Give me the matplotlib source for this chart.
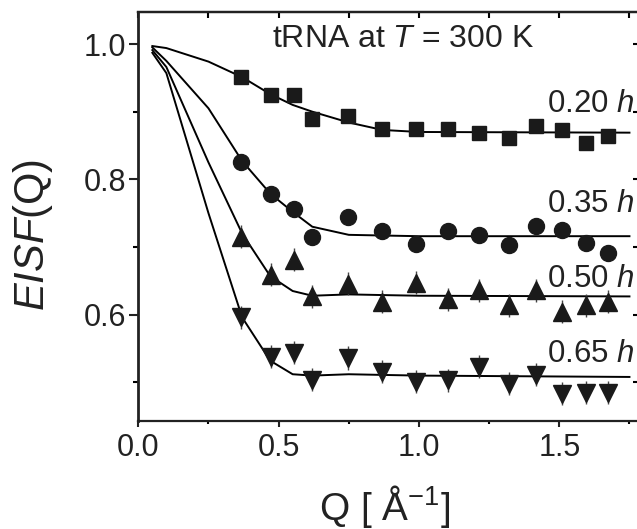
import matplotlib
matplotlib.use("Agg")
import matplotlib.pyplot as plt
from matplotlib.ticker import MultipleLocator

plt.rcParams['font.family'] = ['Liberation Sans', 'DejaVu Sans']
plt.rcParams['mathtext.fontset'] = 'custom'
plt.rcParams['mathtext.rm'] = 'Liberation Sans'
plt.rcParams['mathtext.it'] = 'Liberation Sans:italic'
plt.rcParams['mathtext.bf'] = 'Liberation Sans:bold'

# ---- data ----
q = [0.366, 0.474, 0.554, 0.619, 0.746, 0.869, 0.989, 1.104, 1.214, 1.321, 1.418, 1.511, 1.595, 1.674]
eisf_020 = [0.951, 0.924, 0.924, 0.889, 0.894, 0.875, 0.875, 0.875, 0.869, 0.861, 0.879, 0.873, 0.853, 0.864]
eisf_035 = [0.825, 0.778, 0.756, 0.715, 0.745, 0.723, 0.705, 0.723, 0.718, 0.703, 0.731, 0.725, 0.706, 0.691]
eisf_050 = [0.715, 0.659, 0.681, 0.627, 0.646, 0.619, 0.647, 0.623, 0.636, 0.614, 0.636, 0.604, 0.614, 0.619]
eisf_065 = [0.596, 0.538, 0.544, 0.504, 0.536, 0.516, 0.501, 0.503, 0.523, 0.498, 0.511, 0.483, 0.485, 0.485]
err_tri = 0.017

q_fit = [0.05, 0.10, 0.25, 0.37, 0.47, 0.55, 0.62, 0.75, 0.87, 1.00, 1.75]
fit_020 = [0.997, 0.994, 0.974, 0.951, 0.926, 0.910, 0.900, 0.884, 0.873, 0.870, 0.869]
fit_035 = [0.995, 0.975, 0.905, 0.827, 0.779, 0.752, 0.730, 0.718, 0.717, 0.716, 0.716]
fit_050 = [0.991, 0.966, 0.825, 0.720, 0.657, 0.635, 0.628, 0.630, 0.629, 0.628, 0.627]
fit_065 = [0.987, 0.957, 0.750, 0.596, 0.532, 0.512, 0.510, 0.512, 0.511, 0.510, 0.508]

labels = ["0.20 $\\mathit{h}$", "0.35 $\\mathit{h}$", "0.50 $\\mathit{h}$", "0.65 $\\mathit{h}$"]
label_y = [0.900, 0.752, 0.641, 0.530]

# ---- figure ----
W, H = 637, 529
fig = plt.figure(figsize=(W / 100, H / 100), dpi=100)
left_px, right_px, top_px, bot_px = 138.3, 639.0, 12.0, 421.0
ax = fig.add_axes([left_px / W, 1 - bot_px / H, (right_px - left_px) / W, (bot_px - top_px) / H])

k = 'black'
lw_fit = 1.4
for yf in (fit_020, fit_035, fit_050, fit_065):
    ax.plot(q_fit, yf, color=k, lw=lw_fit, zorder=2)

ax.plot(q, eisf_020, ls='none', marker='s', ms=10.5, color='#1a1a1a', zorder=3)
ax.plot(q, eisf_035, ls='none', marker='o', ms=11.5, color='#1a1a1a', zorder=3)
ax.errorbar(q, eisf_050, yerr=err_tri, fmt='none', ecolor='#444444', elinewidth=1.0, capsize=0, zorder=2.5)
ax.plot(q, eisf_050, ls='none', marker='^', ms=12.5, color='#1a1a1a', zorder=3)
ax.errorbar(q, eisf_065, yerr=err_tri, fmt='none', ecolor='#444444', elinewidth=1.0, capsize=0, zorder=2.5)
ax.plot(q, eisf_065, ls='none', marker='v', ms=12.5, color='#1a1a1a', zorder=3)

ax.set_xlim(0, 1.784)
ax.set_ylim(0.4429, 1.0473)

ax.xaxis.set_major_locator(MultipleLocator(0.5))
ax.xaxis.set_minor_locator(MultipleLocator(0.25))
ax.yaxis.set_major_locator(MultipleLocator(0.2))
ax.yaxis.set_minor_locator(MultipleLocator(0.1))
ax.xaxis.set_major_formatter(matplotlib.ticker.FormatStrFormatter('%.1f'))
ax.yaxis.set_major_formatter(matplotlib.ticker.FormatStrFormatter('%.1f'))

ax.tick_params(axis='y', which='major', direction='out', length=6.5, width=1.5, labelsize=22, pad=2, colors='#222222')
ax.tick_params(axis='y', which='minor', direction='out', length=3.5, width=1.5)
ax.tick_params(axis='x', which='major', direction='out', length=4, width=1.5, labelsize=22, pad=5, colors='#222222')
ax.tick_params(axis='x', which='minor', direction='out', length=2.5, width=1.5)
ax.tick_params(top=False, right=False)

for s in ('left', 'bottom', 'top', 'right'):
    ax.spines[s].set_linewidth(1.6)
    ax.spines[s].set_color('#222222')
ax.spines['left'].set_linewidth(2.0)

sx = ax.secondary_xaxis('top')
sx.xaxis.set_major_locator(MultipleLocator(0.5))
sx.xaxis.set_minor_locator(MultipleLocator(0.25))
sx.tick_params(which='major', direction='in', length=4, width=1.5, labeltop=False)
sx.tick_params(which='minor', direction='in', length=4, width=1.5)
sx.spines['top'].set_linewidth(1.6)

sy = ax.secondary_yaxis('right')
sy.yaxis.set_major_locator(MultipleLocator(0.2))
sy.yaxis.set_minor_locator(MultipleLocator(0.1))
sy.tick_params(which='major', direction='in', length=4, width=1.5, labelright=False)
sy.tick_params(which='minor', direction='in', length=4, width=1.5)

ax.text(0.943, 0.996, "tRNA at $\\mathit{T}$ = 300 K", ha='center', va='baseline', fontsize=23, color='#222222')
for lab, yl in zip(labels, label_y):
    ax.text(1.768, yl, lab, ha='right', va='baseline', fontsize=22.5, color='#222222')

fig.text(33 / W, 1 - 235 / H, "$\\mathit{EISF}$(Q)", rotation=90, ha='center', va='center', fontsize=30, color='#222222')
fig.text(385 / W, 1 - 507 / H, "Q [ Å$^{\\mathregular{-1}}$]", ha='center', va='center', fontsize=28, color='#222222')

fig.savefig("out.png", dpi=100)
